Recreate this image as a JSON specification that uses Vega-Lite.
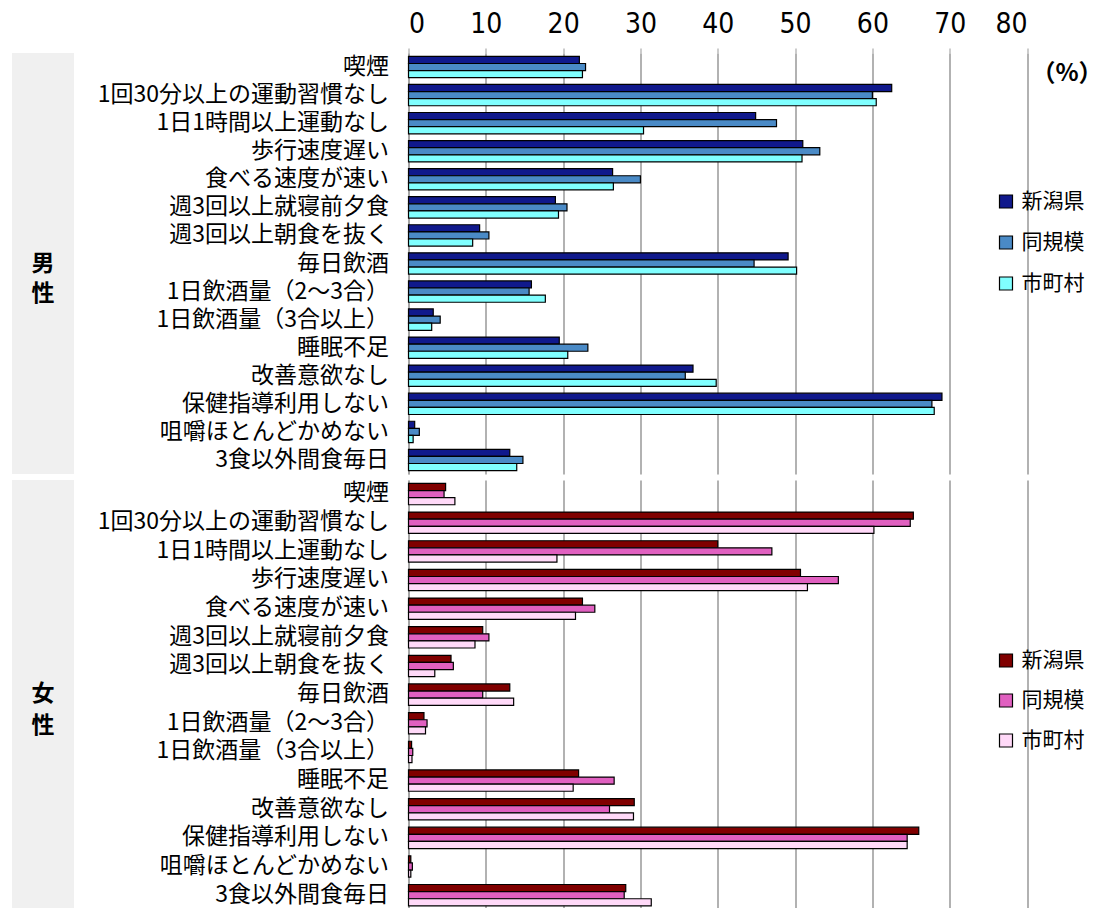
{
  "$schema": "https://vega.github.io/schema/vega-lite/v6.json",
  "background": "white",
  "padding": {"left": 12, "top": 10, "right": 5, "bottom": 0},
  "config": {
    "font": "Noto Sans CJK JP",
    "view": {"stroke": null},
    "axis": {"gridColor": "#999999", "gridWidth": 1.5, "domainColor": "#999999", "tickColor": "#999999"}
  },
  "datasets": {
    "male": [
      {"i": "喫煙", "s": "新潟県", "v": 22.1}, {"i": "喫煙", "s": "同規模", "v": 22.9}, {"i": "喫煙", "s": "市町村", "v": 22.5},
      {"i": "1回30分以上の運動習慣なし", "s": "新潟県", "v": 62.5}, {"i": "1回30分以上の運動習慣なし", "s": "同規模", "v": 60.0}, {"i": "1回30分以上の運動習慣なし", "s": "市町村", "v": 60.5},
      {"i": "1日1時間以上運動なし", "s": "新潟県", "v": 44.9}, {"i": "1日1時間以上運動なし", "s": "同規模", "v": 47.6}, {"i": "1日1時間以上運動なし", "s": "市町村", "v": 30.4},
      {"i": "歩行速度遅い", "s": "新潟県", "v": 51.0}, {"i": "歩行速度遅い", "s": "同規模", "v": 53.2}, {"i": "歩行速度遅い", "s": "市町村", "v": 50.9},
      {"i": "食べる速度が速い", "s": "新潟県", "v": 26.4}, {"i": "食べる速度が速い", "s": "同規模", "v": 30.0}, {"i": "食べる速度が速い", "s": "市町村", "v": 26.5},
      {"i": "週3回以上就寝前夕食", "s": "新潟県", "v": 19.0}, {"i": "週3回以上就寝前夕食", "s": "同規模", "v": 20.5}, {"i": "週3回以上就寝前夕食", "s": "市町村", "v": 19.4},
      {"i": "週3回以上朝食を抜く", "s": "新潟県", "v": 9.2}, {"i": "週3回以上朝食を抜く", "s": "同規模", "v": 10.4}, {"i": "週3回以上朝食を抜く", "s": "市町村", "v": 8.3},
      {"i": "毎日飲酒", "s": "新潟県", "v": 49.1}, {"i": "毎日飲酒", "s": "同規模", "v": 44.7}, {"i": "毎日飲酒", "s": "市町村", "v": 50.2},
      {"i": "1日飲酒量（2～3合）", "s": "新潟県", "v": 15.9}, {"i": "1日飲酒量（2～3合）", "s": "同規模", "v": 15.6}, {"i": "1日飲酒量（2～3合）", "s": "市町村", "v": 17.7},
      {"i": "1日飲酒量（3合以上）", "s": "新潟県", "v": 3.2}, {"i": "1日飲酒量（3合以上）", "s": "同規模", "v": 4.1}, {"i": "1日飲酒量（3合以上）", "s": "市町村", "v": 3.0},
      {"i": "睡眠不足", "s": "新潟県", "v": 19.5}, {"i": "睡眠不足", "s": "同規模", "v": 23.2}, {"i": "睡眠不足", "s": "市町村", "v": 20.6},
      {"i": "改善意欲なし", "s": "新潟県", "v": 36.8}, {"i": "改善意欲なし", "s": "同規模", "v": 35.8}, {"i": "改善意欲なし", "s": "市町村", "v": 39.8},
      {"i": "保健指導利用しない", "s": "新潟県", "v": 69.0}, {"i": "保健指導利用しない", "s": "同規模", "v": 67.7}, {"i": "保健指導利用しない", "s": "市町村", "v": 68.0},
      {"i": "咀嚼ほとんどかめない", "s": "新潟県", "v": 0.8}, {"i": "咀嚼ほとんどかめない", "s": "同規模", "v": 1.4}, {"i": "咀嚼ほとんどかめない", "s": "市町村", "v": 0.6},
      {"i": "3食以外間食毎日", "s": "新潟県", "v": 13.1}, {"i": "3食以外間食毎日", "s": "同規模", "v": 14.8}, {"i": "3食以外間食毎日", "s": "市町村", "v": 14.0}
    ],
    "female": [
      {"i": "喫煙", "s": "新潟県", "v": 4.8}, {"i": "喫煙", "s": "同規模", "v": 4.6}, {"i": "喫煙", "s": "市町村", "v": 6.0},
      {"i": "1回30分以上の運動習慣なし", "s": "新潟県", "v": 65.3}, {"i": "1回30分以上の運動習慣なし", "s": "同規模", "v": 64.9}, {"i": "1回30分以上の運動習慣なし", "s": "市町村", "v": 60.2},
      {"i": "1日1時間以上運動なし", "s": "新潟県", "v": 40.0}, {"i": "1日1時間以上運動なし", "s": "同規模", "v": 47.0}, {"i": "1日1時間以上運動なし", "s": "市町村", "v": 19.2},
      {"i": "歩行速度遅い", "s": "新潟県", "v": 50.7}, {"i": "歩行速度遅い", "s": "同規模", "v": 55.6}, {"i": "歩行速度遅い", "s": "市町村", "v": 51.6},
      {"i": "食べる速度が速い", "s": "新潟県", "v": 22.5}, {"i": "食べる速度が速い", "s": "同規模", "v": 24.1}, {"i": "食べる速度が速い", "s": "市町村", "v": 21.6},
      {"i": "週3回以上就寝前夕食", "s": "新潟県", "v": 9.6}, {"i": "週3回以上就寝前夕食", "s": "同規模", "v": 10.4}, {"i": "週3回以上就寝前夕食", "s": "市町村", "v": 8.6},
      {"i": "週3回以上朝食を抜く", "s": "新潟県", "v": 5.5}, {"i": "週3回以上朝食を抜く", "s": "同規模", "v": 5.8}, {"i": "週3回以上朝食を抜く", "s": "市町村", "v": 3.4},
      {"i": "毎日飲酒", "s": "新潟県", "v": 13.1}, {"i": "毎日飲酒", "s": "同規模", "v": 9.6}, {"i": "毎日飲酒", "s": "市町村", "v": 13.6},
      {"i": "1日飲酒量（2～3合）", "s": "新潟県", "v": 2.0}, {"i": "1日飲酒量（2～3合）", "s": "同規模", "v": 2.4}, {"i": "1日飲酒量（2～3合）", "s": "市町村", "v": 2.2},
      {"i": "1日飲酒量（3合以上）", "s": "新潟県", "v": 0.4}, {"i": "1日飲酒量（3合以上）", "s": "同規模", "v": 0.55}, {"i": "1日飲酒量（3合以上）", "s": "市町村", "v": 0.45},
      {"i": "睡眠不足", "s": "新潟県", "v": 22.0}, {"i": "睡眠不足", "s": "同規模", "v": 26.6}, {"i": "睡眠不足", "s": "市町村", "v": 21.3},
      {"i": "改善意欲なし", "s": "新潟県", "v": 29.2}, {"i": "改善意欲なし", "s": "同規模", "v": 26.0}, {"i": "改善意欲なし", "s": "市町村", "v": 29.1},
      {"i": "保健指導利用しない", "s": "新潟県", "v": 66.0}, {"i": "保健指導利用しない", "s": "同規模", "v": 64.5}, {"i": "保健指導利用しない", "s": "市町村", "v": 64.5},
      {"i": "咀嚼ほとんどかめない", "s": "新潟県", "v": 0.3}, {"i": "咀嚼ほとんどかめない", "s": "同規模", "v": 0.5}, {"i": "咀嚼ほとんどかめない", "s": "市町村", "v": 0.3},
      {"i": "3食以外間食毎日", "s": "新潟県", "v": 28.1}, {"i": "3食以外間食毎日", "s": "同規模", "v": 27.9}, {"i": "3食以外間食毎日", "s": "市町村", "v": 31.4}
    ]
  },
  "bounds": "flush",
  "columns": 2,
  "spacing": {"row": 6, "column": 334.5},
  "resolve": {"scale": {"color": "independent", "x": "independent", "y": "independent"}, "legend": {"color": "independent"}},
  "concat": [
    {
      "width": 62, "height": 421,
      "view": {"fill": "#f0f0f0", "stroke": null},
      "data": {"values": [{"g": "男\n性"}]},
      "mark": {"type": "text", "fontSize": 23, "fontWeight": "bold", "lineBreak": "\n", "lineHeight": 30, "color": "black"},
      "encoding": {"text": {"field": "g"}}
    },
    {
      "width": 618.5, "height": 421,
      "data": {"name": "male"},
      "mark": {"type": "bar", "stroke": "black", "strokeWidth": 1.2},
      "encoding": {
        "y": {
          "field": "i", "type": "nominal",
          "sort": ["喫煙", "1回30分以上の運動習慣なし", "1日1時間以上運動なし", "歩行速度遅い", "食べる速度が速い", "週3回以上就寝前夕食", "週3回以上朝食を抜く", "毎日飲酒", "1日飲酒量（2～3合）", "1日飲酒量（3合以上）", "睡眠不足", "改善意欲なし", "保健指導利用しない", "咀嚼ほとんどかめない", "3食以外間食毎日"],
          "scale": {"paddingInner": 0.24, "paddingOuter": 0.12},
          "axis": {"title": null, "labelFontSize": 23, "labelPadding": 20, "ticks": false, "labelColor": "black", "labelLimit": 400}
        },
        "yOffset": {"field": "s", "type": "nominal", "sort": ["新潟県", "同規模", "市町村"], "scale": {"paddingInner": 0, "paddingOuter": 0}},
        "x": {
          "field": "v", "type": "quantitative",
          "scale": {"domain": [0, 80], "nice": false},
          "axis": {
            "orient": "top", "values": [0, 10, 20, 30, 40, 50, 60, 70, 80],
            "title": "（%）", "titleFontSize": 24, "titleFontWeight": "bold", "titleColor": "black",
            "titleX": 658, "titleY": 20, "titleAlign": "center", "titleBaseline": "middle", "titleAnchor": null,
            "labelFont": "DejaVu Sans Condensed, Liberation Sans", "labelFontSize": 28, "labelColor": "black", "labelPadding": 10,
            "tickSize": 5, "domain": false, "grid": true
          }
        },
        "color": {
          "field": "s", "type": "nominal",
          "sort": ["新潟県", "同規模", "市町村"],
          "scale": {"domain": ["新潟県", "同規模", "市町村"], "range": ["#10198c", "#4a8ac6", "#80ffff"]},
          "legend": {
            "title": null, "orient": "none", "legendX": 587, "legendY": 138,
            "symbolType": "square", "symbolSize": 169, "symbolStrokeColor": "black", "symbolStrokeWidth": 1.2, "symbolOpacity": 1,
            "labelFontSize": 21, "labelColor": "black", "labelOffset": 5, "rowPadding": 19, "padding": 0
          }
        }
      }
    },
    {
      "width": 62, "height": 428,
      "view": {"fill": "#f0f0f0", "stroke": null},
      "data": {"values": [{"g": "女\n性"}]},
      "mark": {"type": "text", "fontSize": 23, "fontWeight": "bold", "lineBreak": "\n", "lineHeight": 32, "color": "black"},
      "encoding": {"text": {"field": "g"}}
    },
    {
      "width": 618.5, "height": 428,
      "data": {"name": "female"},
      "mark": {"type": "bar", "stroke": "black", "strokeWidth": 1.2},
      "encoding": {
        "y": {
          "field": "i", "type": "nominal",
          "sort": ["喫煙", "1回30分以上の運動習慣なし", "1日1時間以上運動なし", "歩行速度遅い", "食べる速度が速い", "週3回以上就寝前夕食", "週3回以上朝食を抜く", "毎日飲酒", "1日飲酒量（2～3合）", "1日飲酒量（3合以上）", "睡眠不足", "改善意欲なし", "保健指導利用しない", "咀嚼ほとんどかめない", "3食以外間食毎日"],
          "scale": {"paddingInner": 0.3, "paddingOuter": 0.12},
          "axis": {"title": null, "labelFontSize": 23, "labelPadding": 20, "ticks": false, "labelColor": "black", "labelLimit": 400}
        },
        "yOffset": {"field": "s", "type": "nominal", "sort": ["新潟県", "同規模", "市町村"], "scale": {"paddingInner": 0, "paddingOuter": 0}},
        "x": {
          "field": "v", "type": "quantitative",
          "scale": {"domain": [0, 80], "nice": false},
          "axis": {"orient": "top", "values": [0, 10, 20, 30, 40, 50, 60, 70, 80], "title": null, "labels": false, "ticks": false, "domain": false, "grid": true}
        },
        "color": {
          "field": "s", "type": "nominal",
          "sort": ["新潟県", "同規模", "市町村"],
          "scale": {"domain": ["新潟県", "同規模", "市町村"], "range": ["#800000", "#e060c0", "#ffd9f8"]},
          "legend": {
            "title": null, "orient": "none", "legendX": 587, "legendY": 170,
            "symbolType": "square", "symbolSize": 169, "symbolStrokeColor": "black", "symbolStrokeWidth": 1.2, "symbolOpacity": 1,
            "labelFontSize": 21, "labelColor": "black", "labelOffset": 5, "rowPadding": 18, "padding": 0
          }
        }
      }
    }
  ]
}
